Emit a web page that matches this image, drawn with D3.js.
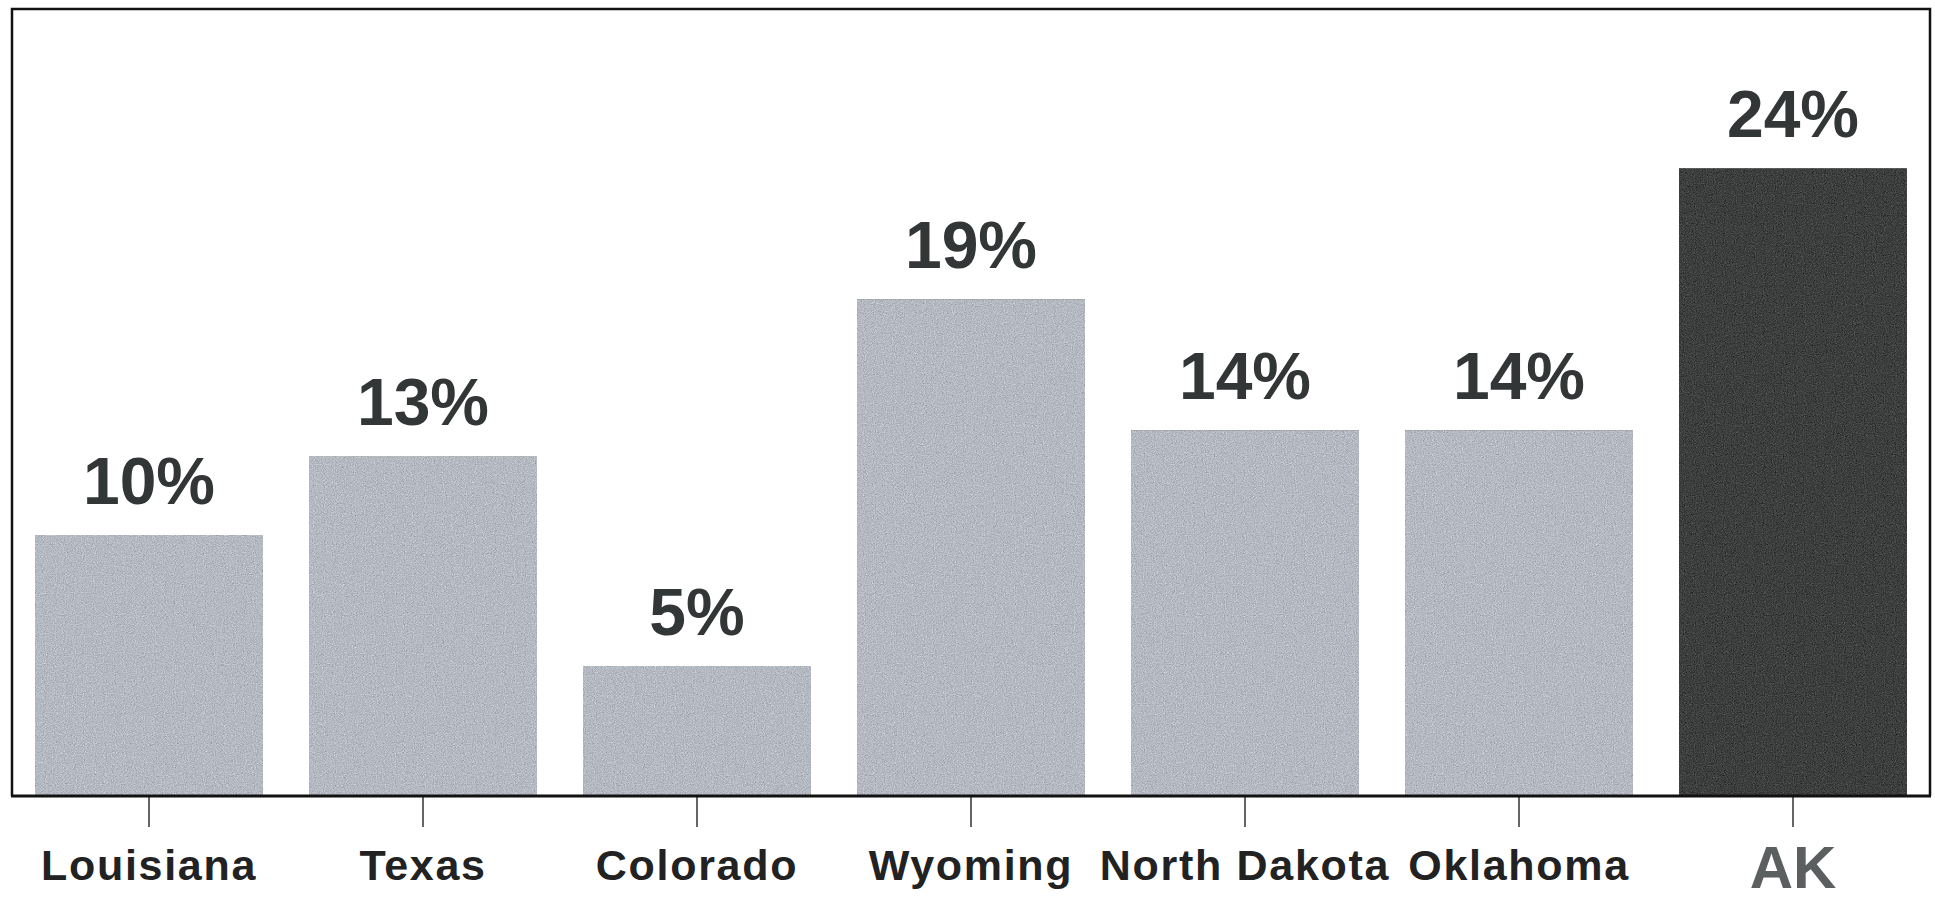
<!DOCTYPE html>
<html>
<head>
<meta charset="utf-8">
<script src="https://cdn.jsdelivr.net/npm/d3@7/dist/d3.min.js"></script>
<style>
  html, body { margin: 0; padding: 0; background: #ffffff; }
  svg { display: block; }
</style>
</head>
<body>
<script>
// Share by state (percent)
const categories = ["Louisiana", "Texas", "Colorado", "Wyoming", "North Dakota", "Oklahoma", "AK"];
const values = [10, 13, 5, 19, 14, 14, 24];
const valueLabels = ["10%", "13%", "5%", "19%", "14%", "14%", "24%"];
const highlighted = ["AK"];

const width = 1935, height = 904;
const frame = { left: 12, top: 9, right: 1930, bottom: 796 };

const svg = d3.select("body").append("svg")
  .attr("width", width)
  .attr("height", height);

// Speckled print texture for the bars
const defs = svg.append("defs");
const grain = defs.append("filter")
  .attr("id", "grain")
  .attr("x", 0).attr("y", 0).attr("width", 1).attr("height", 1)
  .attr("color-interpolation-filters", "sRGB");
grain.append("feTurbulence")
  .attr("type", "fractalNoise")
  .attr("baseFrequency", 0.9)
  .attr("numOctaves", 2)
  .attr("seed", 7)
  .attr("result", "noise");
grain.append("feColorMatrix")
  .attr("in", "noise")
  .attr("type", "matrix")
  .attr("values", "0.33 0.33 0.33 0 0  0.33 0.33 0.33 0 0  0.33 0.33 0.33 0 0  0 0 0 0 1")
  .attr("result", "mono");
grain.append("feComposite")
  .attr("in", "SourceGraphic")
  .attr("in2", "mono")
  .attr("operator", "arithmetic")
  .attr("k1", 0).attr("k2", 1).attr("k3", 0.6).attr("k4", -0.3)
  .attr("result", "tex");
grain.append("feComposite")
  .attr("in", "tex")
  .attr("in2", "SourceGraphic")
  .attr("operator", "in");

const x = d3.scaleBand()
  .domain(categories)
  .range([frame.left, frame.right])
  .paddingInner(0.168)
  .paddingOuter(0.084);

const y = d3.scaleLinear()
  .domain([0, 30])
  .range([797, 11]);

const isHi = d => highlighted.includes(d);

// Bars
svg.append("g")
  .selectAll("rect")
  .data(categories)
  .join("rect")
  .attr("x", d => x(d))
  .attr("y", (d, i) => y(values[i]))
  .attr("width", x.bandwidth())
  .attr("height", (d, i) => y(0) - y(values[i]))
  .attr("fill", d => isHi(d) ? "#3d3f3e" : "#b5b9c2")
  .attr("filter", "url(#grain)");

// Value labels above bars
svg.append("g")
  .selectAll("text")
  .data(categories)
  .join("text")
  .attr("x", d => x(d) + x.bandwidth() / 2)
  .attr("y", (d, i) => y(values[i]) - 31)
  .attr("text-anchor", "middle")
  .attr("font-family", "'Liberation Sans', Arial, sans-serif")
  .attr("font-weight", "bold")
  .attr("font-size", 66)
  .attr("fill", "#333636")
  .text((d, i) => valueLabels[i]);

// Frame: left, top, right
svg.append("path")
  .attr("d", `M${frame.left},${frame.bottom} V${frame.top} H${frame.right} V${frame.bottom}`)
  .attr("fill", "none")
  .attr("stroke", "#111")
  .attr("stroke-width", 2.5);

// Category axis
const xAxis = d3.axisBottom(x).tickSize(31).tickSizeOuter(0).tickPadding(0);
const ax = svg.append("g")
  .attr("transform", `translate(0,${frame.bottom})`)
  .call(xAxis);
ax.select(".domain").remove();
ax.selectAll(".tick line")
  .attr("stroke", "#333")
  .attr("stroke-width", 1.5);
ax.selectAll(".tick text")
  .attr("font-family", "'Liberation Sans', Arial, sans-serif")
  .attr("font-weight", "bold")
  .attr("font-size", 43)
  .attr("letter-spacing", 1.7)
  .attr("fill", "#222")
  .attr("dy", null)
  .attr("y", 84);
ax.selectAll(".tick text")
  .filter(d => isHi(d))
  .attr("font-size", 60)
  .attr("letter-spacing", 0)
  .attr("fill", "#5b5f5f")
  .attr("y", 92);

// Baseline
svg.append("line")
  .attr("x1", frame.left - 1)
  .attr("x2", frame.right + 1)
  .attr("y1", frame.bottom)
  .attr("y2", frame.bottom)
  .attr("stroke", "#111")
  .attr("stroke-width", 3);
</script>
</body>
</html>
